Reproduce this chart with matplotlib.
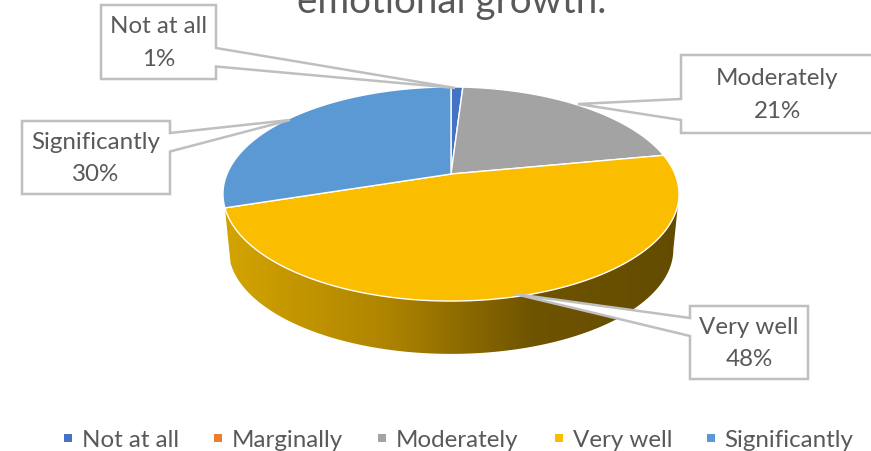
import numpy as np
import matplotlib
matplotlib.use("Agg")
import matplotlib.pyplot as plt
from matplotlib.colors import LinearSegmentedColormap
from matplotlib.patches import PathPatch, Polygon, Rectangle
from matplotlib.path import Path

# --- DATA ---
categories = ["Not at all", "Marginally", "Moderately", "Very well", "Significantly"]
values = [1, 0, 21, 48, 30]
colors = ["#4472C4", "#ED7D31", "#A3A3A3", "#FBBD00", "#5A99D4"]
title_text = "emotional growth."

plt.rcParams["font.family"] = ["Lato", "DejaVu Sans"]
TEXT = "#595959"
BORDER = "#BFBFBF"

# perspective disc, fitted on the picture
CX, CY = 451, 175
RX, RY, PERSP = 224, 103.3, 0.187
WALL_SCALE, WALL_SHIFT = 0.975, 56


def rim(frac, scale=1.0, shift=0.0):
    """ Pie fraction (clockwise from north) to picture coordinates """
    t = 2 * np.pi * np.asarray(frac)
    u, v = np.sin(t), np.cos(t)
    w = 1 + PERSP * v
    return CX + scale * RX * u / w, CY - scale * RY * v / w + shift


fig = plt.figure(figsize=(8.71, 4.52), dpi=100)
ax = fig.add_axes([0, 0, 1, 1])
ax.set_xlim(0, 871)
ax.set_ylim(452, 0)
ax.axis("off")

edges = np.cumsum([0] + values) / sum(values)

# --- SIDE WALL (only the big slice shows) ---
# on the right it runs on to the widest point of the disc, behind the top face
big = categories.index("Very well")
arc = np.linspace(edges[big + 1], 0.28, 200)
xt, yt = rim(arc)
xb, yb = rim(arc[::-1], WALL_SCALE, WALL_SHIFT)
wall = np.vstack([np.column_stack([xt, yt]), np.column_stack([xb, yb])])
wall_patch = PathPatch(Path(np.vstack([wall, wall[0]]), closed=True), fc="none", ec="none")
ax.add_patch(wall_patch)
shade = LinearSegmentedColormap.from_list(
    "wall", [(0, "#D3A400"), (0.35, "#AF8500"), (0.68, "#6E5300"), (1, "#634C00")])
img = ax.imshow(np.linspace(0, 1, 256)[None, :], cmap=shade, aspect="auto",
                extent=[224, 680, 360, 190], zorder=1)
img.set_clip_path(wall_patch)
ax.set_xlim(0, 871)
ax.set_ylim(452, 0)

# --- TOP FACE ---
for i, c in enumerate(colors):
    if values[i] == 0:
        continue
    xs, ys = rim(np.linspace(edges[i], edges[i + 1], 150))
    pts = np.column_stack([np.r_[CX, xs], np.r_[CY, ys]])
    ax.add_patch(Polygon(pts, closed=True, fc=c, ec="white", lw=1.0, zorder=2))

# --- CALLOUTS ---
# box left/right/top/bottom, the two joins on the box, leader tip
callouts = [
    (0, 101, 216, 6, 80, (216, 49), (216, 67.5), (455, 89), "right"),
    (4, 22, 170, 122, 195, (170, 134), (170, 152.5), (290, 121), "right"),
    (2, 681, 873, 56, 134, (681, 100), (681, 121), (578, 105), "left"),
    (3, 690, 808, 307, 380, (690, 319), (690, 337), (515, 295), "left"),
]
for idx, l, r, t, b, j1, j2, tip, side in callouts:
    if side == "right":
        outline = [(l, t), (r, t), j1, tip, j2, (r, b), (l, b)]
    else:
        outline = [(l, t), (r, t), (r, b), (l, b), j2, tip, j1]
    ax.add_patch(Polygon(outline, closed=True, fc="white", ec=BORDER, lw=1.8,
                         joinstyle="miter", zorder=3))
    label = f"{categories[idx]}\n{values[idx]}%"
    ax.text((l + r) / 2, (t + b) / 2, label, ha="center", va="center",
            fontsize=17.4, color=TEXT, linespacing=1.65, zorder=4)

# --- TITLE, cut off by the top of the picture ---
ax.text(452, 13.5, title_text, ha="center", va="baseline", fontsize=27.7,
        color=TEXT, zorder=4)

# --- LEGEND ---
legend_x = [64, 214, 378, 555, 706.5]
for name, c, x in zip(categories, colors, legend_x):
    ax.add_patch(Rectangle((x, 435), 8, 8, fc=c, ec="none", zorder=4))
    ax.text(x + 18, 439, name, ha="left", va="center_baseline", fontsize=17.4,
            color=TEXT, zorder=4)

fig.savefig("out.png", dpi=100)
